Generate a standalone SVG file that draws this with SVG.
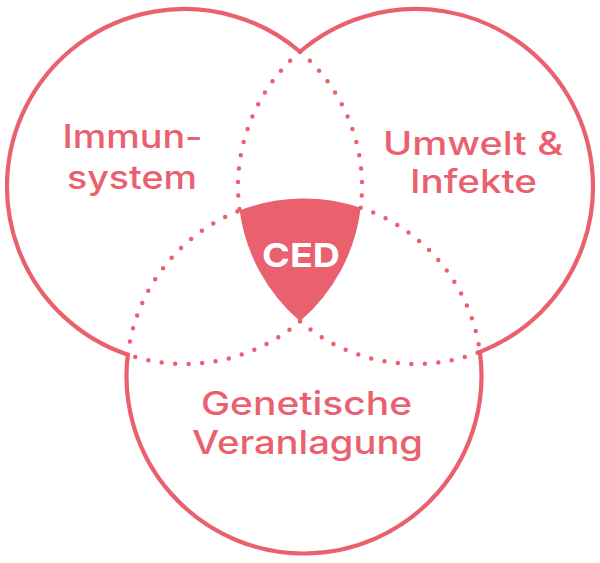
<svg xmlns="http://www.w3.org/2000/svg" width="600" height="563" viewBox="0 0 600 563">
<style>
.solid{fill:none;stroke:#E9616F;stroke-width:4.2;stroke-linejoin:miter}
.dot{fill:none;stroke:#E9616F;stroke-width:4.5;stroke-linecap:round;stroke-dasharray:0 13.5}
.lbl{font-family:Inter,"Open Sans","Liberation Sans",sans-serif;font-size:32px;font-weight:500;fill:#E9616F;text-anchor:middle}
.ced{font-family:Inter,"Open Sans","Liberation Sans",sans-serif;font-size:33px;font-weight:700;fill:#FFFFFF;text-anchor:middle}
</style>
<rect width="600" height="563" fill="#FFFFFF"/>
<g id="connectors">
<path class="dot" d="M300,51.72 A177.5,177.5 0 0 0 239.64,210.58"/>
<path class="dot" d="M300,321.28 A177.5,177.5 0 0 0 479.86,351.92"/>
<path class="dot" d="M300,51.72 A177.5,177.5 0 0 1 360.72,207.81"/>
<path class="dot" d="M300,321.28 A177.5,177.5 0 0 1 127.78,354.69"/>
<path class="dot" d="M127.78,354.69 A177.5,177.5 0 0 1 239.64,210.58"/>
<path class="dot" d="M360.72,207.81 A177.5,177.5 0 0 1 479.86,351.92"/>
<path class="solid" d="M300,51.72 A177.5,177.5 0 1 0 127.78,354.69 A177.5,177.5 0 1 0 479.86,351.92 A177.5,177.5 0 1 0 300,51.72 Z"/>
</g>
<g id="immunsystem">
<text class="lbl" x="132.5" y="148" textLength="140" lengthAdjust="spacingAndGlyphs">Immun-</text>
<text class="lbl" x="132" y="189" textLength="130" lengthAdjust="spacingAndGlyphs">system</text>
</g>
<g id="umwelt">
<text class="lbl" x="473" y="155" textLength="180" lengthAdjust="spacingAndGlyphs">Umwelt &amp;</text>
<text class="lbl" x="473.5" y="193" textLength="127" lengthAdjust="spacingAndGlyphs">Infekte</text>
</g>
<g id="genetisch">
<text class="lbl" x="306.5" y="415" textLength="211" lengthAdjust="spacingAndGlyphs">Genetische</text>
<text class="lbl" x="307.5" y="454" textLength="231" lengthAdjust="spacingAndGlyphs">Veranlagung</text>
</g>
<g id="ced">
<path fill="#E9616F" d="M239.64,210.58 A177.5,177.5 0 0 1 360.72,207.81 A177.5,177.5 0 0 1 300,321.28 A177.5,177.5 0 0 1 239.64,210.58 Z"/>
<text class="ced" x="301" y="267" textLength="78" lengthAdjust="spacingAndGlyphs">CED</text>
</g>
</svg>
